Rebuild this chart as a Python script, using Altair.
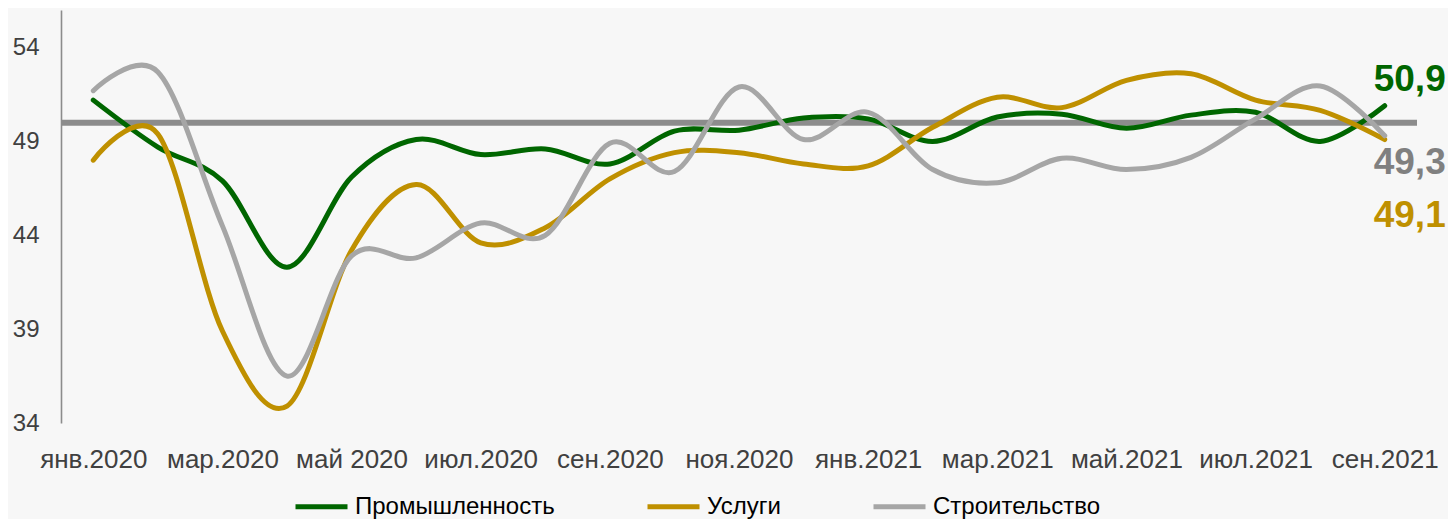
import altair as alt
import pandas as pd

months = ["янв.2020", "фев.2020", "мар.2020", "апр.2020", "май 2020", "июн.2020",
          "июл.2020", "авг.2020", "сен.2020", "окт.2020", "ноя.2020", "дек.2020",
          "янв.2021", "фев.2021", "мар.2021", "апр.2021", "май.2021", "июн.2021",
          "июл.2021", "авг.2021", "сен.2021"]
axis_labels = months[::2]

industry = [51.2, 48.7, 46.9, 42.3, 47.1, 49.1, 48.3, 48.6, 47.8, 49.55, 49.6,
            50.25, 50.2, 49.0, 50.3, 50.45, 49.7, 50.4, 50.55, 49.0, 50.9]
services = [48.0, 49.4, 38.9, 34.9, 43.2, 46.7, 43.6, 44.4, 47.0, 48.4, 48.4,
            47.8, 47.7, 49.75, 51.35, 50.8, 52.25, 52.6, 51.2, 50.65, 49.1]
construction = [51.7, 52.7, 44.5, 36.5, 42.9, 42.8, 44.65, 44.0, 48.9, 47.4, 51.9,
                49.1, 50.55, 47.5, 46.8, 48.1, 47.5, 48.15, 50.2, 51.95, 49.3]

series_names = ["Промышленность", "Услуги", "Строительство"]
line_colors = ["#006600", "#BF9000", "#A6A6A6"]
label_colors = ["#006600", "#BF9000", "#808080"]
label_dy = [-26, 76, 27]
threshold = [50]

rows = []
for name, vals in zip(series_names, [industry, services, construction]):
    for m, v in zip(months, vals):
        rows.append({"month": m, "value": v, "series": name})
df = pd.DataFrame(rows)

last_rows = []
for name, vals in zip(series_names, [industry, services, construction]):
    last_rows.append({"month": months[-1], "value": vals[-1], "series": name,
                      "label": f"{vals[-1]:.1f}".replace(".", ",")})
df_last = pd.DataFrame(last_rows)

font = "Liberation Sans"

x_enc = alt.X("month:O", sort=months,
              scale=alt.Scale(type="point", padding=0.5),
              axis=alt.Axis(values=axis_labels, title=None, labelAngle=0, domain=False,
                            ticks=False, labelFontSize=26, labelColor="#404040",
                            labelPadding=23, labelFont=font, labelOverlap=False))
y_enc = alt.Y("value:Q",
              scale=alt.Scale(domain=[34, 56], nice=False, zero=False),
              axis=alt.Axis(values=[34, 39, 44, 49, 54], title=None, grid=False,
                            ticks=False, domainColor="#8c8c8c", domainWidth=1.6,
                            labelFontSize=24, labelColor="#404040", labelPadding=22,
                            labelFont=font))

rule = alt.Chart(pd.DataFrame({"v": threshold})).mark_rule(
    color="#8c8c8c", strokeWidth=6).encode(y="v:Q")

lines = alt.Chart(df).mark_line(interpolate="cardinal", strokeWidth=5,
                                strokeCap="round").encode(
    x=x_enc, y=y_enc,
    color=alt.Color("series:N", sort=series_names,
                    scale=alt.Scale(domain=series_names, range=line_colors),
                    legend=alt.Legend(title=None, orient="none", legendX=232, legendY=468,
                                      direction="horizontal", symbolType="stroke",
                                      symbolSize=2704, symbolStrokeWidth=5,
                                      labelFontSize=24, labelColor="#000000",
                                      labelFont=font, labelLimit=400,
                                      columnPadding=82, labelOffset=5)),
    order=alt.Order("series:N")
)

texts = []
for name, col, dy in zip(series_names, label_colors, label_dy):
    texts.append(
        alt.Chart(df_last[df_last["series"] == name]).mark_text(
            align="left", baseline="middle", dx=-11, dy=dy, fontSize=37,
            fontWeight="bold", font=font, color=col).encode(
            x=alt.X("month:O", sort=months), y="value:Q", text="label:N")
    )

chart = alt.layer(rule, lines, *texts).properties(
    width=1356, height=413,
    padding={"left": 53, "top": 2, "right": 31, "bottom": 96},
    autosize=alt.AutoSizeParams(type="none"),
    background="#f7f7f7",
).configure_view(stroke=None)

chart.save("out.html", embed_options={"renderer": "svg", "actions": False})
